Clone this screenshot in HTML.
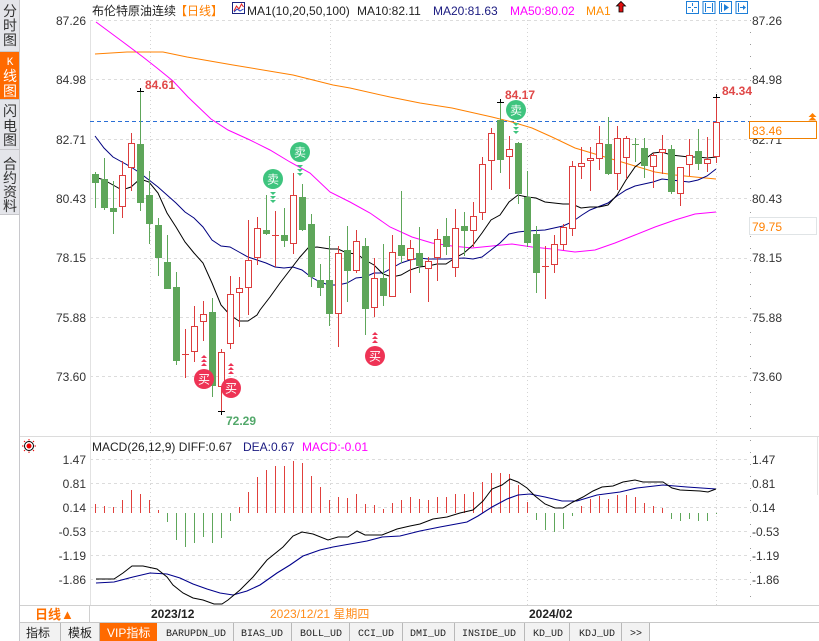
<!DOCTYPE html>
<html><head><meta charset="utf-8"><style>
html,body{margin:0;padding:0;background:#fff;}
svg{display:block;}
text{font-family:"Liberation Sans","Noto Sans CJK SC",sans-serif;}
.ax{font-size:12px;fill:#333;}
.tb{font-size:12px;fill:#222;}
.mono{font-family:"Liberation Mono","Noto Sans CJK SC",monospace;font-size:10px;fill:#222;}
</style></head><body>
<svg width="819" height="641" viewBox="0 0 819 641" xmlns="http://www.w3.org/2000/svg">
<rect x="0" y="0" width="819" height="641" fill="#fff"/>

<!-- Sidebar -->
<rect x="0" y="0" width="20" height="215" fill="#e4e5ea"/>
<rect x="0" y="52" width="20" height="47" fill="#ff6a00"/>
<line x1="0" y1="51.5" x2="20" y2="51.5" stroke="#c8c8cc"/>
<line x1="0" y1="99.5" x2="20" y2="99.5" stroke="#c8c8cc"/>
<line x1="0" y1="149.5" x2="20" y2="149.5" stroke="#c8c8cc"/>
<line x1="0" y1="214.5" x2="20" y2="214.5" stroke="#c8c8cc"/>
<line x1="19.5" y1="0" x2="19.5" y2="641" stroke="#c8c8cc"/>
<g font-size="14" fill="#333" text-anchor="middle">
<text x="10" y="16">分</text><text x="10" y="30.5">时</text><text x="10" y="45">图</text>
<text x="10" y="65" fill="#fff" font-size="11" style="font-family:'Liberation Mono',monospace">K</text>
<text x="10" y="81" fill="#fff">线</text><text x="10" y="96" fill="#fff">图</text>
<text x="10" y="116">闪</text><text x="10" y="131">电</text><text x="10" y="145">图</text>
<text x="10" y="169">合</text><text x="10" y="183">约</text><text x="10" y="197">资</text><text x="10" y="211">料</text>
</g>

<!-- Grid main -->
<g stroke="#dcdcdc" stroke-dasharray="3,3">
<line x1="90" y1="20.5" x2="750" y2="20.5"/>
<line x1="90" y1="79.5" x2="750" y2="79.5"/>
<line x1="90" y1="139.5" x2="750" y2="139.5"/>
<line x1="90" y1="198.5" x2="750" y2="198.5"/>
<line x1="90" y1="258.5" x2="750" y2="258.5"/>
<line x1="90" y1="317.5" x2="750" y2="317.5"/>
<line x1="90" y1="376.5" x2="750" y2="376.5"/>
<line x1="90" y1="459.5" x2="750" y2="459.5"/>
<line x1="90" y1="483.5" x2="750" y2="483.5"/>
<line x1="90" y1="507.5" x2="750" y2="507.5"/>
<line x1="90" y1="531.5" x2="750" y2="531.5"/>
<line x1="90" y1="555.5" x2="750" y2="555.5"/>
<line x1="90" y1="579.5" x2="750" y2="579.5"/>
</g>
<g stroke="#d4d4d4" stroke-dasharray="1,3">
<line x1="150.5" y1="20" x2="150.5" y2="605"/>
<line x1="330.5" y1="20" x2="330.5" y2="605"/>
<line x1="527.5" y1="20" x2="527.5" y2="605"/>
<line x1="716.5" y1="20" x2="716.5" y2="605"/>
<line x1="750.5" y1="20" x2="750.5" y2="605" stroke="#999" stroke-dasharray="1,11"/>
</g>
<line x1="90.5" y1="20" x2="90.5" y2="605" stroke="#e2e2e2"/>
<line x1="20" y1="436.5" x2="819" y2="436.5" stroke="#dcdcdc"/>
<line x1="817.5" y1="437" x2="817.5" y2="495" stroke="#e4e4e4"/>

<!-- Header -->
<text class="tb" x="92" y="15">布伦特原油连续</text>
<text x="175" y="15" font-size="12" fill="#ff7f00">【日线】</text>
<rect x="232.5" y="2.5" width="12" height="11" fill="#fff" stroke="#1a237e"/>
<polyline points="234,11 236.5,6 239,9 241.5,4 243.5,7" fill="none" stroke="#e02020" stroke-width="1"/>
<polyline points="234,12 237,9 240,11 243.5,9" fill="none" stroke="#2040c0" stroke-width="1"/>
<text class="tb" x="247" y="15">MA1(10,20,50,100)</text>
<text class="tb" x="357" y="15">MA10:82.11</text>
<text x="433" y="15" font-size="12" fill="#1a1a80">MA20:81.63</text>
<text x="510" y="15" font-size="12" fill="#ff00ff">MA50:80.02</text>
<text x="586" y="15" font-size="12" fill="#ff8c00">MA1</text>
<polygon points="621,1.5 625.5,6 623,6 623,12 619,12 619,6 616.5,6" fill="#e01010" stroke="#000" stroke-width="0.8"/>
<!-- top right buttons -->
<g fill="#fff" stroke="#1e7fd8" stroke-width="1">
<rect x="686.5" y="1.5" width="12" height="12"/>
<rect x="703" y="1.5" width="12" height="12"/>
<rect x="719.5" y="1.5" width="12" height="12"/>
<rect x="736" y="1.5" width="11.5" height="12"/>
</g>
<g stroke="#1e7fd8" stroke-width="1" fill="#1e7fd8">
<line x1="692.5" y1="3" x2="692.5" y2="6"/><line x1="692.5" y1="9" x2="692.5" y2="12"/>
<line x1="688" y1="7.5" x2="691" y2="7.5"/><line x1="694" y1="7.5" x2="697" y2="7.5"/>
<line x1="705.5" y1="3" x2="705.5" y2="12"/><line x1="712.5" y1="3" x2="712.5" y2="12"/>
<line x1="707" y1="7.5" x2="711" y2="7.5"/>
<line x1="721.5" y1="3" x2="721.5" y2="12"/><polygon points="724,4 729,7.5 724,11" stroke="none"/>
<line x1="738.5" y1="3" x2="738.5" y2="12"/><line x1="740" y1="7.5" x2="745" y2="7.5"/><polygon points="743,5 746,7.5 743,10" stroke="none"/>
</g>

<!-- Axis labels main -->
<g class="ax" text-anchor="end">
<text x="86" y="25">87.26</text><text x="86" y="84">84.98</text><text x="86" y="144">82.71</text>
<text x="86" y="203">80.43</text><text x="86" y="262">78.15</text><text x="86" y="322">75.88</text><text x="86" y="381">73.60</text>
<text x="86" y="464">1.47</text><text x="86" y="488">0.81</text><text x="86" y="512">0.14</text>
<text x="86" y="536">-0.53</text><text x="86" y="560">-1.19</text><text x="86" y="584">-1.86</text>
</g>
<g class="ax">
<text x="752" y="25">87.26</text><text x="752" y="84">84.98</text><text x="752" y="144">82.71</text>
<text x="752" y="203">80.43</text><text x="752" y="262">78.15</text><text x="752" y="322">75.88</text><text x="752" y="381">73.60</text>
<text x="752" y="464">1.47</text><text x="752" y="488">0.81</text><text x="752" y="512">0.14</text>
<text x="752" y="536">-0.53</text><text x="752" y="560">-1.19</text><text x="752" y="584">-1.86</text>
</g>
<rect x="749.5" y="121.5" width="67" height="17" fill="#fff" stroke="#f08000"/>
<text x="752" y="135" font-size="12" fill="#ff8000">83.46</text>
<polygon points="812.5,113 816.5,117 808.5,117" fill="#ff8000"/>
<polygon points="812.5,116.5 816.5,120.5 808.5,120.5" fill="#ff8000"/>
<rect x="749.5" y="217.5" width="67" height="17" fill="#fff" stroke="#e0e4e6"/>
<text x="752" y="231" font-size="12" fill="#ff8000">79.75</text>

<!-- dashed last price line -->
<line x1="90" y1="121.5" x2="749" y2="121.5" stroke="#2a6fd6" stroke-dasharray="4,3"/>

<!-- MA lines -->
<polyline fill="none" stroke="#ff8000" stroke-width="1" points="95,54 127,52 163,52 187,57 233,65 293,75 333,85 350,88 390,97 420,103 452,108 492,117 512,122 532,128 552,137 575,148 595,154 615,160 635,166 655,172 675,175 695,177 716,179"/>
<polyline fill="none" stroke="#ff00ff" stroke-width="1" points="96,22 123,42 143,57 157,68 173,81 188,97 211,119 228,130 250,140 270,150 290,162 310,173 330,192 350,202 370,213 390,227 412,237 432,243 452,246 472,248 492,246 512,244 532,247 552,249 575,252 595,250 615,243 635,235 655,227 675,220 695,214 716,212"/>
<polyline fill="none" stroke="#000080" stroke-width="1" points="95,136 104,148 113,157 122,162 131,167 140,173 149,180 158,187 167,195 176,203 185,212 194,218 203,227 212,240 221,246 230,247 239,252 248,257 257,260 266,263 275,267 284,268 293,267 302,270 311,277 320,282 329,285 338,285 347,283 356,278 365,277 374,273 383,273 392,268 401,263 410,260 420,258 428,259 446,259 464,258 473,259 482,257 491,250 500,243 509,234 518,232 527,231 545,230 563,226 572,222 582,215 590,210 608,203 617,196 626,190 635,186 644,184 653,182 662,179 671,180 680,181 689,182 698,180 707,176 716,169"/>
<polyline fill="none" stroke="#000" stroke-width="1" points="95,177 104,180 113,185 122,190 131,187 140,179 149,182 158,193 167,213 176,227 185,242 194,253 203,263 212,283 221,305 230,315 239,321 248,321 257,315 260,310 270,297 280,283 290,270 300,257 308,248 317,247 330,249 338,249 347,253 357,254 365,260 374,265 383,274 392,277 401,275 410,270 419,267 428,266 437,264 446,264 455,258 464,253 473,245 482,233 491,220 500,215 509,202 518,195 527,197 536,198 545,202 554,203 563,204 572,204 581,208 590,207 599,207 608,205 617,195 626,180 635,167 644,160 653,153 662,152 671,155 680,156 689,157 698,157 707,158 716,157"/>

<!-- Green candles -->
<g stroke="#5ea65a" stroke-width="1">
<line x1="95.5" y1="172" x2="95.5" y2="208"/><line x1="104.5" y1="158" x2="104.5" y2="210"/><line x1="113.5" y1="181" x2="113.5" y2="234"/>
<line x1="140.5" y1="91" x2="140.5" y2="211"/><line x1="149.5" y1="171" x2="149.5" y2="244"/><line x1="158.5" y1="218" x2="158.5" y2="276"/>
<line x1="167.5" y1="235" x2="167.5" y2="289"/><line x1="176.5" y1="272" x2="176.5" y2="365"/><line x1="212.5" y1="298" x2="212.5" y2="397"/>
<line x1="266.5" y1="195" x2="266.5" y2="235"/><line x1="284.5" y1="208" x2="284.5" y2="247"/><line x1="302.5" y1="184" x2="302.5" y2="231"/>
<line x1="311.5" y1="214" x2="311.5" y2="287"/><line x1="320.5" y1="264" x2="320.5" y2="296"/><line x1="329.5" y1="236" x2="329.5" y2="326"/>
<line x1="347.5" y1="226" x2="347.5" y2="302"/><line x1="365.5" y1="238" x2="365.5" y2="335"/><line x1="383.5" y1="244" x2="383.5" y2="306"/>
<line x1="401.5" y1="191" x2="401.5" y2="263"/><line x1="419.5" y1="227" x2="419.5" y2="273"/><line x1="446.5" y1="218" x2="446.5" y2="255"/>
<line x1="464.5" y1="212" x2="464.5" y2="256"/><line x1="500.5" y1="102" x2="500.5" y2="173"/><line x1="518.5" y1="142" x2="518.5" y2="204"/>
<line x1="527.5" y1="171" x2="527.5" y2="247"/><line x1="536.5" y1="226" x2="536.5" y2="293"/><line x1="608.5" y1="117" x2="608.5" y2="175"/>
<line x1="635.5" y1="138" x2="635.5" y2="162"/><line x1="644.5" y1="138" x2="644.5" y2="178"/><line x1="671.5" y1="145" x2="671.5" y2="194"/>
<line x1="698.5" y1="129" x2="698.5" y2="170"/>
<line x1="632" y1="144.5" x2="639" y2="144.5"/>
</g>
<g fill="#5ea65a">
<rect x="92" y="174" width="7" height="9"/><rect x="101" y="179" width="7" height="29"/><rect x="110" y="208" width="7" height="4"/>
<rect x="137" y="144" width="7" height="59"/><rect x="146" y="195" width="7" height="29"/><rect x="155" y="225" width="7" height="33"/>
<rect x="164" y="262" width="7" height="27"/><rect x="173" y="287" width="7" height="74"/><rect x="209" y="312" width="7" height="74"/>
<rect x="263" y="230" width="7" height="4"/><rect x="281" y="235" width="7" height="6"/><rect x="299" y="197" width="7" height="33"/>
<rect x="308" y="224" width="7" height="53"/><rect x="317" y="280" width="7" height="8"/><rect x="326" y="280" width="7" height="34"/>
<rect x="344" y="250" width="7" height="21"/><rect x="362" y="246" width="7" height="63"/><rect x="380" y="278" width="7" height="18"/>
<rect x="398" y="245" width="7" height="11"/><rect x="416" y="253" width="7" height="13"/><rect x="443" y="236" width="7" height="11"/>
<rect x="461" y="226" width="7" height="5"/><rect x="497" y="120" width="7" height="40"/><rect x="515" y="143" width="7" height="51"/>
<rect x="524" y="197" width="7" height="46"/><rect x="533" y="234" width="7" height="39"/><rect x="605" y="144" width="7" height="30"/>
<rect x="641" y="148" width="7" height="18"/><rect x="668" y="149" width="7" height="43"/><rect x="695" y="151" width="7" height="13"/>
</g>

<!-- Red candles -->
<g stroke="#dc3c3c" stroke-width="1">
<line x1="122.5" y1="161" x2="122.5" y2="218"/><line x1="131.5" y1="133" x2="131.5" y2="191"/><line x1="185.5" y1="329" x2="185.5" y2="378"/>
<line x1="194.5" y1="306" x2="194.5" y2="362"/><line x1="203.5" y1="301" x2="203.5" y2="341"/><line x1="221.5" y1="349" x2="221.5" y2="412"/>
<line x1="230.5" y1="276" x2="230.5" y2="349"/><line x1="239.5" y1="277" x2="239.5" y2="327"/><line x1="248.5" y1="220" x2="248.5" y2="315"/>
<line x1="257.5" y1="217" x2="257.5" y2="265"/><line x1="275.5" y1="211" x2="275.5" y2="267"/><line x1="293.5" y1="173" x2="293.5" y2="254"/>
<line x1="338.5" y1="246" x2="338.5" y2="347"/><line x1="356.5" y1="230" x2="356.5" y2="273"/><line x1="374.5" y1="258" x2="374.5" y2="317"/>
<line x1="392.5" y1="235" x2="392.5" y2="297"/><line x1="410.5" y1="240" x2="410.5" y2="293"/><line x1="428.5" y1="257" x2="428.5" y2="302"/>
<line x1="437.5" y1="229" x2="437.5" y2="281"/><line x1="455.5" y1="209" x2="455.5" y2="277"/><line x1="473.5" y1="202" x2="473.5" y2="247"/>
<line x1="482.5" y1="157" x2="482.5" y2="220"/><line x1="491.5" y1="128" x2="491.5" y2="190"/><line x1="509.5" y1="136" x2="509.5" y2="189"/>
<line x1="545.5" y1="246" x2="545.5" y2="299"/><line x1="554.5" y1="235" x2="554.5" y2="273"/><line x1="563.5" y1="224" x2="563.5" y2="250"/>
<line x1="572.5" y1="161" x2="572.5" y2="236"/><line x1="581.5" y1="147" x2="581.5" y2="179"/><line x1="590.5" y1="147" x2="590.5" y2="191"/>
<line x1="599.5" y1="126" x2="599.5" y2="170"/><line x1="617.5" y1="126" x2="617.5" y2="190"/><line x1="626.5" y1="136" x2="626.5" y2="179"/>
<line x1="653.5" y1="153" x2="653.5" y2="188"/><line x1="662.5" y1="135" x2="662.5" y2="174"/><line x1="680.5" y1="167" x2="680.5" y2="206"/>
<line x1="689.5" y1="139" x2="689.5" y2="176"/><line x1="707.5" y1="137" x2="707.5" y2="172"/><line x1="716.5" y1="97" x2="716.5" y2="163"/>
<line x1="182" y1="354.5" x2="189" y2="354.5"/><line x1="272" y1="235.5" x2="279" y2="235.5"/><line x1="542" y1="266.5" x2="549" y2="266.5"/>
</g>
<g fill="#fff" stroke="#dc3c3c" stroke-width="1">
<rect x="119.5" y="175.5" width="6" height="31"/><rect x="128.5" y="143.5" width="6" height="24"/>
<rect x="191.5" y="326.5" width="6" height="25"/><rect x="200.5" y="314.5" width="6" height="7"/><rect x="218.5" y="352.5" width="6" height="34"/>
<rect x="227.5" y="294.5" width="6" height="49"/><rect x="236.5" y="288.5" width="6" height="4"/><rect x="245.5" y="260.5" width="6" height="27"/>
<rect x="254.5" y="228.5" width="6" height="29"/><rect x="290.5" y="195.5" width="6" height="48"/>
<rect x="335.5" y="253.5" width="6" height="60"/><rect x="353.5" y="241.5" width="6" height="29"/><rect x="371.5" y="278.5" width="6" height="29"/>
<rect x="389.5" y="252.5" width="6" height="44"/><rect x="407.5" y="248.5" width="6" height="11"/><rect x="425.5" y="261.5" width="6" height="7"/>
<rect x="434.5" y="239.5" width="6" height="18"/><rect x="452.5" y="228.5" width="6" height="39"/><rect x="470.5" y="216.5" width="6" height="14"/>
<rect x="479.5" y="164.5" width="6" height="48"/><rect x="488.5" y="133.5" width="6" height="27"/><rect x="506.5" y="149.5" width="6" height="7"/>
<rect x="551.5" y="244.5" width="6" height="20"/><rect x="560.5" y="227.5" width="6" height="17"/>
<rect x="569.5" y="166.5" width="6" height="62"/><rect x="578.5" y="163.5" width="6" height="3"/><rect x="587.5" y="158.5" width="6" height="2"/>
<rect x="596.5" y="143.5" width="6" height="15"/><rect x="614.5" y="138.5" width="6" height="35"/><rect x="623.5" y="138.5" width="6" height="19"/>
<rect x="650.5" y="155.5" width="6" height="11"/><rect x="659.5" y="149.5" width="6" height="3"/><rect x="677.5" y="167.5" width="6" height="26"/>
<rect x="686.5" y="155.5" width="6" height="9"/><rect x="704.5" y="159.5" width="6" height="4"/><rect x="713.5" y="122.5" width="6" height="34"/>
</g>

<!-- high/low crosses -->
<g stroke="#000" stroke-width="1">
<line x1="137" y1="91.5" x2="144" y2="91.5"/><line x1="140.5" y1="88" x2="140.5" y2="91"/>
<line x1="497" y1="102.5" x2="504" y2="102.5"/><line x1="500.5" y1="99" x2="500.5" y2="102"/>
<line x1="713" y1="97.5" x2="720" y2="97.5"/><line x1="716.5" y1="94" x2="716.5" y2="97"/>
<line x1="218" y1="411.5" x2="225" y2="411.5"/><line x1="221.5" y1="412" x2="221.5" y2="415"/>
</g>
<g font-size="12" font-weight="bold" fill="#e04848">
<text x="145" y="89">84.61</text>
<text x="505" y="99">84.17</text>
<text x="722" y="95">84.34</text>
</g>
<text x="226" y="425" font-size="12" font-weight="bold" fill="#52a86a">72.29</text>

<!-- Sell markers -->
<g fill="#3ec47e">
<circle cx="273" cy="179" r="10"/><circle cx="300" cy="152" r="10"/><circle cx="516" cy="110" r="10"/>
<polygon points="270,192 276,192 273,195"/><polygon points="270,196 276,196 273,199"/><polygon points="270,200 276,200 273,203"/>
<polygon points="297,165 303,165 300,168"/><polygon points="297,169 303,169 300,172"/><polygon points="297,173 303,173 300,176"/>
<polygon points="513,123 519,123 516,126"/><polygon points="513,127 519,127 516,130"/><polygon points="513,131 519,131 516,134"/>
</g>
<g font-size="12" fill="#fff" text-anchor="middle">
<text x="273" y="183.5">卖</text><text x="300" y="156.5">卖</text><text x="516" y="114.5">卖</text>
</g>
<!-- Buy markers -->
<g fill="#ee3355">
<circle cx="204" cy="379" r="10"/><circle cx="231" cy="388" r="10"/><circle cx="375" cy="356" r="10"/>
<polygon points="204,355 207,358 201,358"/><polygon points="204,359 207,362 201,362"/><polygon points="204,363 207,366 201,366"/>
<polygon points="231,363 234,366 228,366"/><polygon points="231,367 234,370 228,370"/><polygon points="231,371 234,374 228,374"/>
<polygon points="375,332 378,335 372,335"/><polygon points="375,336 378,339 372,339"/><polygon points="375,340 378,343 372,343"/>
</g>
<g font-size="12" fill="#fff" text-anchor="middle">
<text x="204" y="383.5">买</text><text x="231" y="392.5">买</text><text x="375" y="360.5">买</text>
</g>

<!-- MACD header -->
<g>
<circle cx="29" cy="446" r="4.5" fill="none" stroke="#000" stroke-width="1"/>
<circle cx="29" cy="446" r="2.5" fill="#e00"/>
<g stroke="#e00" stroke-width="1">
<line x1="29" y1="439" x2="29" y2="440.5"/><line x1="29" y1="451.5" x2="29" y2="453"/>
<line x1="22" y1="446" x2="23.5" y2="446"/><line x1="34.5" y1="446" x2="36" y2="446"/>
<line x1="24" y1="441" x2="25" y2="442"/><line x1="33" y1="450" x2="34" y2="451"/>
<line x1="34" y1="441" x2="33" y2="442"/><line x1="25" y1="450" x2="24" y2="451"/>
</g>
</g>
<text class="tb" x="92" y="451">MACD(26,12,9) DIFF:0.67</text>
<text x="243" y="451" font-size="12" fill="#1a1a80">DEA:0.67</text>
<text x="302" y="451" font-size="12" fill="#ff00ff">MACD:-0.01</text>

<!-- MACD histogram -->
<g stroke="#e0403c" stroke-width="1">
<line x1="95.5" y1="513" x2="95.5" y2="504"/><line x1="104.5" y1="513" x2="104.5" y2="506"/><line x1="113.5" y1="513" x2="113.5" y2="507"/>
<line x1="122.5" y1="513" x2="122.5" y2="500"/><line x1="131.5" y1="513" x2="131.5" y2="490"/><line x1="140.5" y1="513" x2="140.5" y2="494"/>
<line x1="149.5" y1="513" x2="149.5" y2="500"/><line x1="158.5" y1="513" x2="158.5" y2="510"/>
<line x1="239.5" y1="513" x2="239.5" y2="507"/><line x1="248.5" y1="513" x2="248.5" y2="492"/><line x1="257.5" y1="513" x2="257.5" y2="477"/>
<line x1="266.5" y1="513" x2="266.5" y2="470"/><line x1="275.5" y1="513" x2="275.5" y2="466"/><line x1="284.5" y1="513" x2="284.5" y2="466"/>
<line x1="293.5" y1="513" x2="293.5" y2="461"/><line x1="302.5" y1="513" x2="302.5" y2="463"/><line x1="311.5" y1="513" x2="311.5" y2="476"/>
<line x1="320.5" y1="513" x2="320.5" y2="487"/><line x1="329.5" y1="513" x2="329.5" y2="500"/><line x1="338.5" y1="513" x2="338.5" y2="497"/>
<line x1="347.5" y1="513" x2="347.5" y2="498"/><line x1="356.5" y1="513" x2="356.5" y2="494"/><line x1="365.5" y1="513" x2="365.5" y2="504"/>
<line x1="374.5" y1="513" x2="374.5" y2="505"/><line x1="383.5" y1="513" x2="383.5" y2="509"/><line x1="392.5" y1="513" x2="392.5" y2="503"/>
<line x1="401.5" y1="513" x2="401.5" y2="500"/><line x1="410.5" y1="513" x2="410.5" y2="497"/><line x1="419.5" y1="513" x2="419.5" y2="499"/>
<line x1="428.5" y1="513" x2="428.5" y2="500"/><line x1="437.5" y1="513" x2="437.5" y2="497"/><line x1="446.5" y1="513" x2="446.5" y2="497"/>
<line x1="455.5" y1="513" x2="455.5" y2="494"/><line x1="464.5" y1="513" x2="464.5" y2="494"/><line x1="473.5" y1="513" x2="473.5" y2="492"/>
<line x1="482.5" y1="513" x2="482.5" y2="482"/><line x1="491.5" y1="513" x2="491.5" y2="473"/><line x1="500.5" y1="513" x2="500.5" y2="473"/>
<line x1="509.5" y1="513" x2="509.5" y2="474"/><line x1="518.5" y1="513" x2="518.5" y2="485"/><line x1="527.5" y1="513" x2="527.5" y2="502"/>
<line x1="581.5" y1="513" x2="581.5" y2="506"/><line x1="590.5" y1="513" x2="590.5" y2="499"/><line x1="599.5" y1="513" x2="599.5" y2="496"/>
<line x1="608.5" y1="513" x2="608.5" y2="499"/><line x1="617.5" y1="513" x2="617.5" y2="495"/><line x1="626.5" y1="513" x2="626.5" y2="495"/>
<line x1="635.5" y1="513" x2="635.5" y2="497"/><line x1="644.5" y1="513" x2="644.5" y2="503"/><line x1="653.5" y1="513" x2="653.5" y2="506"/>
<line x1="662.5" y1="513" x2="662.5" y2="508"/>
</g>
<g stroke="#5ea65a" stroke-width="1">
<line x1="167.5" y1="513" x2="167.5" y2="522"/><line x1="176.5" y1="513" x2="176.5" y2="540"/><line x1="185.5" y1="513" x2="185.5" y2="547"/>
<line x1="194.5" y1="513" x2="194.5" y2="543"/><line x1="203.5" y1="513" x2="203.5" y2="537"/><line x1="212.5" y1="513" x2="212.5" y2="543"/>
<line x1="221.5" y1="513" x2="221.5" y2="538"/><line x1="230.5" y1="513" x2="230.5" y2="521"/>
<line x1="536.5" y1="513" x2="536.5" y2="520"/><line x1="545.5" y1="513" x2="545.5" y2="530"/><line x1="554.5" y1="513" x2="554.5" y2="532"/>
<line x1="563.5" y1="513" x2="563.5" y2="529"/><line x1="572.5" y1="513" x2="572.5" y2="516"/>
<line x1="671.5" y1="513" x2="671.5" y2="519"/><line x1="680.5" y1="513" x2="680.5" y2="521"/><line x1="689.5" y1="513" x2="689.5" y2="519"/>
<line x1="698.5" y1="513" x2="698.5" y2="521"/><line x1="707.5" y1="513" x2="707.5" y2="521"/><line x1="716.5" y1="513" x2="716.5" y2="514"/>
</g>
<!-- DIFF / DEA -->
<polyline fill="none" stroke="#00008b" stroke-width="1.1" points="96,583 114,582 133,577 150,573 167,574 180,578 193,584 207,589 220,593 233,595 247,591 260,585 277,573 290,565 303,556 320,550 333,547 350,544 367,541 382,537 400,536 420,531 440,527 467,522 478,516 492,507 507,499 518,495 530,494 545,497 562,501 577,501 597,495 620,492 637,488 663,485 687,487 716,489"/>
<polyline fill="none" stroke="#000" stroke-width="1" points="96,579 114,579 123,573 132,566 143,566 157,569 167,577 173,585 183,593 193,598 203,600 214,604 222,604 228,600 240,590 253,577 267,560 283,547 293,536 302,532 313,534 328,540 338,537 348,537 357,531 365,535 382,535 397,529 410,526 420,524 433,519 447,517 460,513 473,510 483,501 492,489 502,485 510,479 518,482 527,488 535,496 545,504 555,508 563,508 573,502 583,497 593,491 602,487 613,486 623,482 635,480 643,482 663,482 672,488 680,490 700,491 708,492 716,489"/>

<!-- Date axis row -->
<rect x="20" y="605" width="799" height="17" fill="#fff"/>
<line x1="20" y1="605.5" x2="819" y2="605.5" stroke="#d0d0d0"/>
<line x1="89.5" y1="605" x2="89.5" y2="622" stroke="#d0d0d0"/>
<text x="35" y="619" font-size="13" font-weight="bold" fill="#ff7000">日线▲</text>
<text x="151" y="618" font-size="12" font-weight="bold" fill="#222">2023/12</text>
<text x="270" y="618" font-size="12" fill="#ff8c1a">2023/12/21 星期四</text>
<text x="529" y="618" font-size="12" font-weight="bold" fill="#222">2024/02</text>

<!-- Tab bar -->
<rect x="20" y="622" width="629" height="19" fill="#f2f2f2"/>
<line x1="20" y1="622.5" x2="819" y2="622.5" stroke="#c8c8c8"/>
<rect x="99" y="623" width="58" height="18" fill="#ff6a00"/>
<g stroke="#b8b8b8">
<line x1="60.5" y1="623" x2="60.5" y2="641"/><line x1="99.5" y1="623" x2="99.5" y2="641"/><line x1="233.5" y1="623" x2="233.5" y2="641"/>
<line x1="291.5" y1="623" x2="291.5" y2="641"/><line x1="349.5" y1="623" x2="349.5" y2="641"/><line x1="402.5" y1="623" x2="402.5" y2="641"/>
<line x1="454.5" y1="623" x2="454.5" y2="641"/><line x1="524.5" y1="623" x2="524.5" y2="641"/><line x1="569.5" y1="623" x2="569.5" y2="641"/>
<line x1="621.5" y1="623" x2="621.5" y2="641"/><line x1="649.5" y1="623" x2="649.5" y2="641"/>
</g>
<text x="26" y="637" font-size="12" fill="#222">指标</text>
<text x="68" y="637" font-size="12" fill="#222">模板</text>
<text x="107" y="637" font-size="12" fill="#fff">VIP指标</text>
<text class="mono" x="166" y="636">BARUPDN_UD</text>
<text class="mono" x="241" y="636">BIAS_UD</text>
<text class="mono" x="300" y="636">BOLL_UD</text>
<text class="mono" x="358" y="636">CCI_UD</text>
<text class="mono" x="410" y="636">DMI_UD</text>
<text class="mono" x="462" y="636">INSIDE_UD</text>
<text class="mono" x="533" y="636">KD_UD</text>
<text class="mono" x="579" y="636">KDJ_UD</text>
<text class="mono" x="630" y="636">&gt;&gt;</text>
</svg>
</body></html>
